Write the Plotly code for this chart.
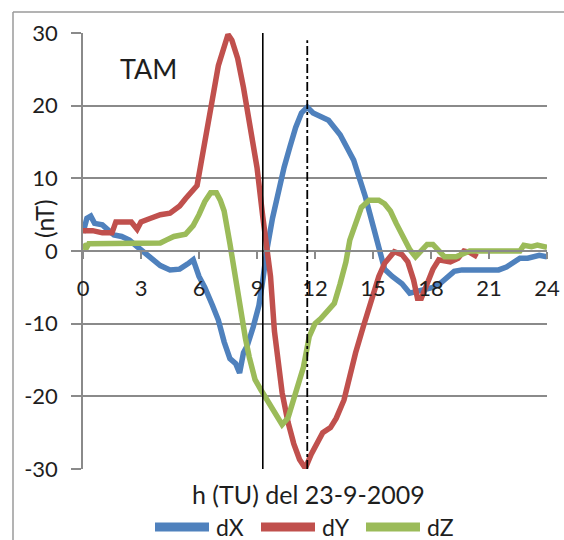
import plotly.graph_objects as go

# ---- data ----
dx_h = [0, 0.2, 0.4, 0.6, 1.0, 1.3, 1.6, 2.0, 2.4, 2.8, 3.2, 3.6, 4.0, 4.5, 5.0, 5.4, 5.7, 6.0,
        6.3, 6.7, 7.0, 7.3, 7.6, 7.9, 8.1, 8.3, 8.5, 8.8, 9.1, 9.3, 9.5, 9.8, 10.0, 10.4, 10.7,
        11.0, 11.3, 11.6, 11.9, 12.3, 12.7, 13.0, 13.3, 13.7, 14.0, 14.3, 14.6, 15.0, 15.3,
        15.6, 16.0, 16.5, 16.9, 17.3, 17.7, 18.1, 18.5, 18.9, 19.2, 19.6, 20.0, 20.5, 21.0,
        21.5, 21.9, 22.3, 22.6, 23.0, 23.3, 23.6, 24.0]
dx_v = [2.5, 4.5, 4.8, 3.8, 3.6, 2.8, 2.2, 2.0, 1.5, 0.6, -0.3, -1.0, -2.0, -2.6, -2.5, -1.8,
        -1.2, -3.5, -5.0, -7.5, -9.5, -12.5, -14.8, -15.5, -16.8, -14.0, -13.0, -10.5, -7.5,
        -4.0, 0.0, 4.5, 7.0, 11.5, 14.3, 17.0, 19.0, 19.8, 19.0, 18.5, 18.0, 17.0, 16.0, 14.0,
        12.5, 10.0, 7.5, 3.5, 0.5, -2.5, -3.5, -4.5, -5.8, -5.5, -5.2, -5.0, -4.4, -3.5, -2.8,
        -2.6, -2.6, -2.7, -2.6, -2.6, -2.2, -1.5, -1.0, -1.0, -0.8, -0.6, -0.8]

dy_h = [0, 0.5, 1.0, 1.5, 1.7, 2.5, 2.8, 3.0, 3.5, 4.0, 4.5, 5.0, 5.3, 5.6, 5.9, 6.1, 6.4, 6.7,
        7.0, 7.3, 7.5, 7.7, 8.0, 8.3, 8.6, 9.0, 9.3, 9.5, 9.7, 9.9, 10.3, 10.6, 10.9, 11.2,
        11.5, 11.8, 12.1, 12.4, 12.8, 13.1, 13.5, 13.8, 14.1, 14.5, 15.0, 15.3, 15.6, 16.1,
        16.5, 16.8, 17.1, 17.3, 17.5, 17.8, 18.1, 18.4, 19.0, 19.4, 19.7, 20.0, 20.4]
dy_v = [2.8, 2.8, 2.5, 2.5, 4.0, 4.0, 3.0, 4.0, 4.5, 5.0, 5.2, 6.2, 7.2, 8.0, 9.0, 12.0, 17.0,
        21.0, 25.5, 28.5, 29.8, 29.0, 26.5, 22.5, 18.0, 11.5, 4.7, 0.0, -3.5, -11.0, -19.5,
        -23.5, -26.5, -28.7, -29.9, -28.0, -26.5, -25.0, -24.3, -23.0, -20.5, -17.0, -14.0,
        -10.4, -5.8, -3.5, -1.7, -0.1, -0.5, -1.5, -4.0, -6.5, -6.5, -4.5, -2.5, -1.2, -1.5,
        -1.0, 0.0, -0.2, -0.8]

dz_h = [0, 0.15, 0.3, 1.0, 2.0, 3.0, 4.0, 4.3, 4.7, 5.3, 5.7, 6.0, 6.3, 6.6, 6.9, 7.1, 7.3, 7.6,
        7.9, 8.1, 8.4, 8.6, 8.9, 9.2, 9.5, 9.8, 10.1, 10.3, 10.6, 10.9, 11.2, 11.4, 11.7, 12.0,
        12.3, 12.7, 13.0, 13.3, 13.6, 13.8, 14.1, 14.4, 14.8, 15.3, 15.6, 15.9, 16.2, 16.5,
        16.9, 17.2, 17.5, 17.8, 18.1, 18.4, 18.7, 19.3, 19.7, 20.0, 21.0, 22.0, 22.6, 22.8,
        23.2, 23.5, 24.0]
dz_v = [1.0, 0.3, 1.0, 1.0, 1.0, 1.0, 1.1, 1.5, 2.0, 2.3, 3.5, 5.0, 6.8, 8.0, 8.0, 7.0, 5.5,
        1.0, -4.0, -7.7, -12.0, -14.6, -17.7, -19.1, -20.5, -21.9, -23.2, -23.9, -23.0, -20.5,
        -18.0, -16.0, -11.8, -10.0, -9.3, -8.2, -7.2, -4.5, -1.5, 1.5, 4.0, 6.0, 7.0, 7.0,
        6.5, 5.5, 3.8, 2.3, 0.2, -0.8, 0.0, 0.9, 0.9, 0.0, -0.8, -0.8, -0.4, 0.0, 0.0, 0.0,
        0.0, 0.8, 0.6, 0.8, 0.5]

series_names = ["dX", "dY", "dZ"]
series_colors = ["#4F81BD", "#C0504D", "#9BBB59"]

x_ticks = [0, 3, 6, 9, 12, 15, 18, 21, 24]
y_ticks = [-30, -20, -10, 0, 10, 20, 30]
event_solid = 9.3
event_dashdot = 11.6

station = "TAM"
x_title = "h (TU) del 23-9-2009"
y_title = "(nT)"

# ---- layout geometry (pixels) ----
W, H = 564, 540
L, R, T, B = 83, 547, 33, 469
pw, ph = R - L, B - T

def px(xp):
    return (xp - L) / pw

def py(yp):
    return (B - yp) / ph

FONT = "Lato, 'Liberation Sans', Arial, sans-serif"
TXT = "#1e1e1e"
GRID = "#8a8a8a"

fig = go.Figure()
for name, col, xs, ys in zip(series_names, series_colors,
                             [dx_h, dy_h, dz_h], [dx_v, dy_v, dz_v]):
    fig.add_trace(go.Scatter(x=xs, y=ys, mode="lines", name=name, showlegend=False,
                             line=dict(color=col, width=5.5)))

# event lines
fig.add_shape(type="line", xref="x", yref="y", x0=event_solid, x1=event_solid,
              y0=y_ticks[0], y1=y_ticks[-1], line=dict(color="black", width=1.6))
fig.add_shape(type="line", xref="x", yref="y", x0=event_dashdot, x1=event_dashdot,
              y0=y_ticks[0], y1=y_ticks[-1] - 1, line=dict(color="black", width=1.8, dash="dashdot"))

# outer chart frame (top and left edges visible)
fig.add_shape(type="line", xref="paper", yref="paper", x0=px(13), x1=px(570), y0=py(12), y1=py(12),
              line=dict(color="#9a9a9a", width=1.5))
fig.add_shape(type="line", xref="paper", yref="paper", x0=px(13), x1=px(13), y0=py(12), y1=py(545),
              line=dict(color="#9a9a9a", width=1.5))

# manual legend (long, thick line samples as in the reference)
leg_y = 527
leg_x0 = [152, 258, 363]
for name, col, x0 in zip(series_names, series_colors, leg_x0):
    fig.add_shape(type="line", xref="paper", yref="paper", x0=px(x0 + 3), x1=px(x0 + 57),
                  y0=py(leg_y), y1=py(leg_y), line=dict(color=col, width=9))
    fig.add_annotation(text=name, xref="paper", yref="paper", x=px(x0 + 62), y=py(leg_y),
                       xanchor="left", yanchor="middle", showarrow=False,
                       font=dict(family=FONT, size=23, color=TXT))

fig.add_annotation(text=station, xref="paper", yref="paper", x=px(148), y=py(69),
                   xanchor="center", yanchor="middle",
                   showarrow=False, font=dict(family=FONT, size=27, color=TXT))
fig.add_annotation(text=x_title, xref="paper", yref="paper", x=px(308), y=py(494),
                   xanchor="center", yanchor="middle",
                   showarrow=False, font=dict(family=FONT, size=25, color=TXT))
fig.add_annotation(text=y_title, xref="paper", yref="paper", x=px(44), y=py(219),
                   xanchor="center", yanchor="middle",
                   textangle=-90, showarrow=False, font=dict(family=FONT, size=25, color=TXT))

fig.update_layout(
    width=W, height=H,
    margin=dict(l=L, r=W - R, t=T, b=H - B, pad=0, autoexpand=False),
    paper_bgcolor="white", plot_bgcolor="white",
    font=dict(family=FONT, size=22, color=TXT),
    showlegend=False,
    xaxis=dict(range=[0, 24], tickvals=x_ticks, ticktext=[str(v) for v in x_ticks],
               showgrid=False, zeroline=False, showline=True, linecolor=GRID, linewidth=1.5,
               ticks="outside", ticklen=7, tickcolor=GRID, tickwidth=1.5,
               anchor="free", position=0.5, ticklabelstandoff=11, automargin=False,
               tickfont=dict(family=FONT, size=22, color=TXT)),
    yaxis=dict(range=[-30, 30], tickvals=y_ticks, ticktext=[str(v) for v in y_ticks],
               showgrid=True, gridcolor=GRID, gridwidth=1.5, zeroline=False,
               showline=True, linecolor=GRID, linewidth=1.5,
               ticks="outside", ticklen=10, tickcolor=GRID, tickwidth=1.5,
               ticklabelstandoff=9, automargin=False,
               tickfont=dict(family=FONT, size=22, color=TXT)),
)

fig.write_html("out.html", config={"displayModeBar": False},
               post_script="document.body.style.margin='0px';")
